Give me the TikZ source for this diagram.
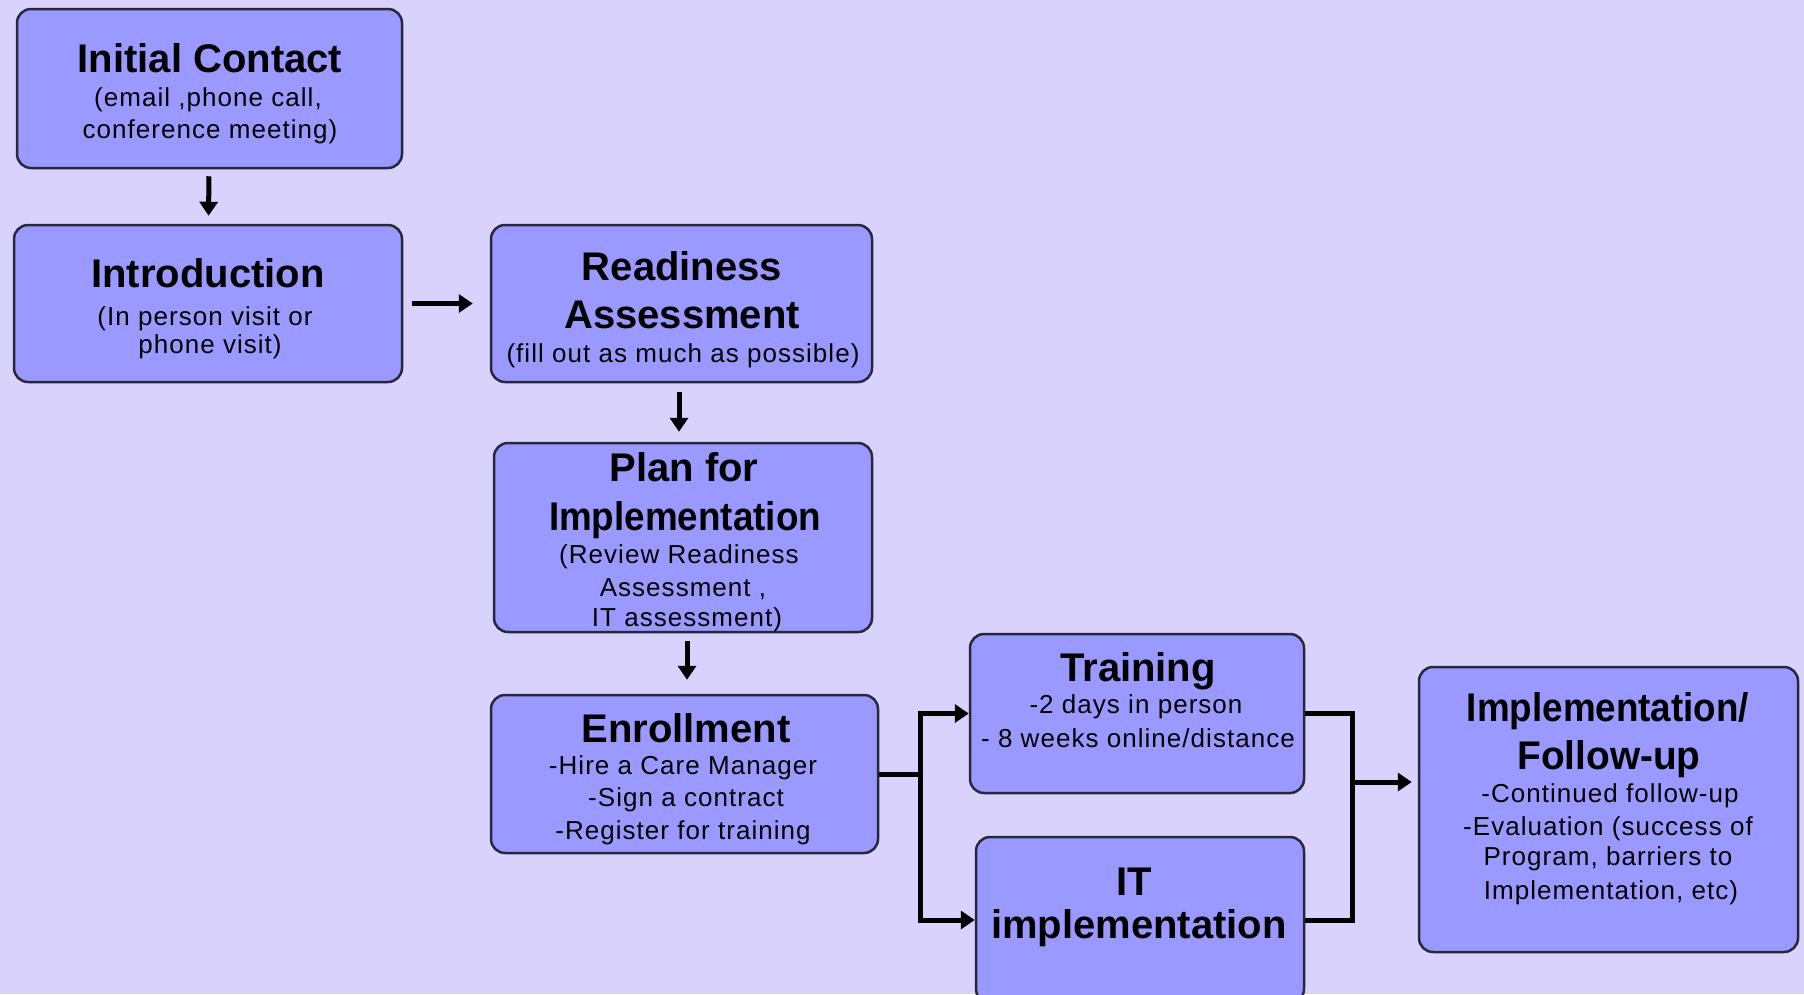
\documentclass[tikz,border=0pt]{standalone}
\usepackage{fontspec}
\usepackage{graphicx}
\setmainfont{Liberation Sans}
\newfontfamily\subf[LetterSpace=4]{Liberation Sans}
\usetikzlibrary{arrows.meta}
\definecolor{bg}{RGB}{217,210,252}
\definecolor{boxfill}{RGB}{153,153,255}
\definecolor{boxline}{RGB}{40,40,60}
\newcommand\ttl[4]{\node[ttlstyle] (#1) at (#2,#3) {#4};}
\newcommand\sbl[4]{\node[substyle] (#1) at (#2,#3) {#4};}
\begin{document}
\begin{tikzpicture}[x=1pt,y=-1pt,
  box/.style={draw=boxline, line width=2.5pt, fill=boxfill, rounded corners=14pt, inner sep=0pt},
  ttlstyle/.style={anchor=base, inner sep=0pt, font=\fontsize{40}{48}\selectfont\bfseries},
  substyle/.style={anchor=base, inner sep=0pt, font=\subf\fontsize{26}{32}\selectfont},
  arr/.style={line width=5pt, -{Triangle[length=14pt,width=18pt]}},
  conn/.style={line width=5pt}]
\fill[bg] (0,0) rectangle (1804,994);
\useasboundingbox (0,0) rectangle (1804,994);

% boxes
\node[box, minimum width=385pt, minimum height=159pt] (ic) at (209.5,88.5) {};
\node[box, minimum width=388pt, minimum height=157pt] (intro) at (208,303.5) {};
\node[box, minimum width=381pt, minimum height=157pt] (rd) at (681.5,303.5) {};
\node[box, minimum width=378pt, minimum height=189pt] (pl) at (683,537.5) {};
\node[box, minimum width=387pt, minimum height=158pt] (en) at (684.5,774) {};
\node[box, minimum width=334pt, minimum height=159pt] (tr) at (1137,713.5) {};
\node[box, minimum width=328pt, minimum height=166pt] (itb) at (1140,920) {};
\node[box, minimum width=379pt, minimum height=285pt] (im) at (1608.5,809.5) {};

% texts
\ttl{ic1}{210}{72}{Initial Contact}
\sbl{ic2}{208}{106}{(email ,phone call,}
\sbl{ic3}{210}{138}{conference meeting)}

\ttl{in1}{208}{287}{Introduction}
\sbl{in2}{205}{325}{(In person visit or}
\sbl{in3}{210}{353}{phone visit)}

\ttl{rd1}{682}{280}{Readiness}
\ttl{rd2}{682}{328}{Assessment}
\sbl{rd3}{683}{362}{(fill out as much as possible)}

\ttl{pl1}{684}{481}{Plan for}
\ttl{pl2}{685}{530}{\scalebox{0.92}[1]{Implementation}}
\sbl{pl3}{679}{563}{(Review Readiness}
\sbl{pl4}{683}{596}{Assessment ,}
\sbl{pl5}{687}{626}{IT assessment)}

\ttl{en1}{686}{742}{Enrollment}
\sbl{en2}{683}{774}{-Hire a Care Manager}
\sbl{en3}{686}{806}{-Sign a contract}
\sbl{en4}{683}{839}{-Register for training}

\ttl{tr1}{1138}{681}{Training}
\sbl{tr2}{1136}{713}{-2 days in person}
\sbl{tr3}{1138}{747}{- 8 weeks online/distance}

\ttl{it1}{1134}{895}{IT}
\ttl{it2}{1139}{938}{implementation}

\ttl{im1}{1608}{721}{\scalebox{0.92}[1]{Implementation/}}
\ttl{im2}{1609}{769}{\scalebox{0.97}[1]{Follow-up}}
\sbl{im3}{1610}{802}{-Continued follow-up}
\sbl{im4}{1608}{835}{-Evaluation (success of}
\sbl{im5}{1608}{865}{Program, barriers to}
\sbl{im6}{1611}{899}{Implementation, etc)}

% connectors
\draw[arr, shorten <=7pt, shorten >=8pt] (ic) -- (intro);
\draw[arr, shorten <=9pt, shorten >=17pt] (intro) -- (rd);
\draw[arr, shorten <=9pt, shorten >=10pt] (rd.south -| 679,0) -- (pl.north -| 679,0);
\draw[arr, shorten <=8pt, shorten >=14pt] (pl.south -| 687,0) -- (en.north -| 687,0);

\coordinate (jl) at (920,774);
\coordinate (jr) at (1352,782);
\draw[conn] (en.east) -- (jl);
\draw[conn] (920,713.5) -- (itb.west -| jl);
\draw[arr] (jl) |- (tr.west);
\draw[arr] (jl) |- (itb.west);
\draw[conn, line join=miter] (tr.east) -| (jr) |- (itb.east);
\draw[arr, shorten >=6pt] (jr) -- (jr -| im.west);
\end{tikzpicture}
\end{document}
